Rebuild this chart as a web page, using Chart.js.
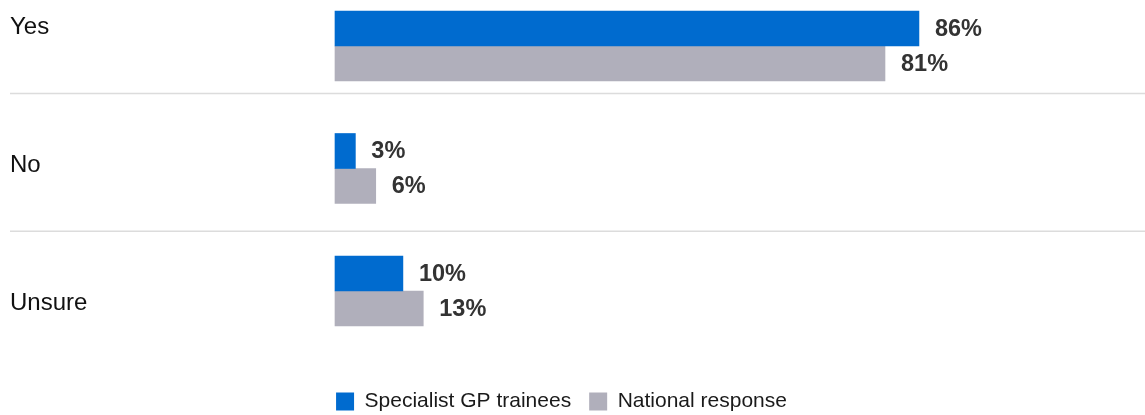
<!DOCTYPE html>
<html>
<head>
<meta charset="utf-8">
<script src="https://cdn.jsdelivr.net/npm/chart.js@4"></script>
<style>
  html, body { margin: 0; padding: 0; background: #fff; }
  #wrap { width: 1145px; height: 415px; }
</style>
</head>
<body>
<div id="wrap"><canvas id="canvas"></canvas></div>
<script>
(function() {

    // answers and percentages per group
    const answers = ['Yes', 'No', 'Unsure']
    const trainees = [86, 3, 10]
    const national = [81, 6, 13]
    const seriesNames = ['Specialist GP trainees', 'National response']

    const FONT = '"Liberation Sans", Arial, Helvetica, sans-serif'

    function el(cssSelector){
        return document.querySelector(cssSelector)
    }

    // row captions on the left + the thin lines between rows
    const rowLabels = {
        id: 'rowLabels',
        afterDraw(chart) {
            const ctx = chart.ctx
            const rows = chart.scales.rows
            ctx.save()
            ctx.strokeStyle = '#dcdcdc'
            ctx.lineWidth = 1.5
            for (let i = 0; i < answers.length - 1; i++) {
                const y = rows.getPixelForValue(i + 0.5)
                ctx.beginPath()
                ctx.moveTo(10, y)
                ctx.lineTo(chart.width, y)
                ctx.stroke()
            }
            ctx.fillStyle = '#111'
            ctx.font = '24px ' + FONT
            ctx.textAlign = 'left'
            ctx.textBaseline = 'middle'
            answers.forEach((a, i) => {
                ctx.fillText(a, 10, rows.getPixelForValue(i) + 3)
            })
            ctx.restore()
        }
    }

    // percentage after the end of every bar
    const valueLabels = {
        id: 'valueLabels',
        afterDatasetsDraw(chart) {
            const ctx = chart.ctx
            ctx.save()
            ctx.fillStyle = '#333'
            ctx.font = 'bold 23.5px ' + FONT
            ctx.textAlign = 'left'
            ctx.textBaseline = 'middle'
            chart.data.datasets.forEach((ds, d) => {
                chart.getDatasetMeta(d).data.forEach((bar, i) => {
                    ctx.fillText(ds.data[i] + '%', bar.x + 16, bar.y + 1)
                })
            })
            ctx.restore()
        }
    }

    new Chart(el('#canvas').getContext('2d'), {
        type: 'bar',
        data: {
            labels: answers,
            datasets: [{
                label: seriesNames[0],
                data: trainees,
                backgroundColor: '#006bcf',
                borderWidth: 0,
                barThickness: 35,
                clip: false
            }, {
                label: seriesNames[1],
                data: national,
                backgroundColor: '#b0afbb',
                borderWidth: 0,
                barThickness: 35,
                clip: false
            }]
        },
        options: {
            indexAxis: 'y',
            responsive: true,
            maintainAspectRatio: false,
            animation: false,
            layout: { padding: { top: 46, left: 109, right: 131, bottom: -7 } },
            scales: {
                x: {
                    min: 0,
                    max: 100,
                    grid: { display: false },
                    border: { display: false },
                    ticks: { display: false },
                    afterFit(scale) { scale.height = 82 }
                },
                y: {
                    type: 'category',
                    offset: false,
                    grid: { display: false },
                    border: { display: false },
                    ticks: { display: false },
                    afterFit(scale) { scale.width = 226 }
                },
                // label rows sit on a slightly wider grid than the bar groups
                rows: {
                    type: 'linear',
                    position: 'left',
                    display: false,
                    offset: false,
                    reverse: true,
                    bounds: 'data',
                    min: 0.155,
                    max: 1.935
                }
            },
            plugins: {
                tooltip: { enabled: false },
                legend: {
                    position: 'bottom',
                    labels: {
                        boxWidth: 18,
                        boxHeight: 18,
                        padding: 18,
                        color: '#1a1a1a',
                        font: { family: FONT, size: 21 }
                    }
                }
            }
        },
        plugins: [rowLabels, valueLabels]
    })

}())
</script>
</body>
</html>
